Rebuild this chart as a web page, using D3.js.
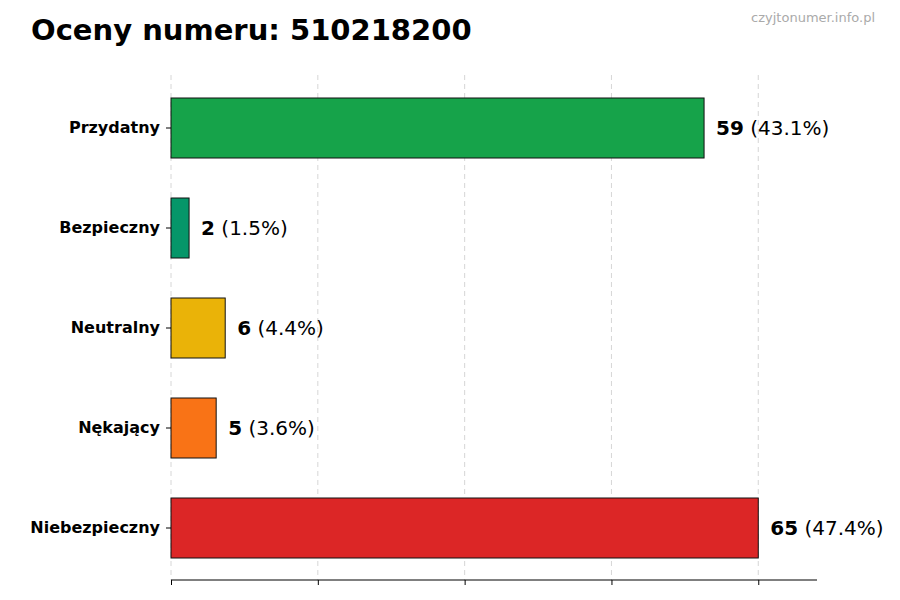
<!DOCTYPE html><html><head><meta charset="utf-8"><script src="https://cdn.jsdelivr.net/npm/d3@7"></script>
<style>body{margin:0;background:#fff}text{font-family:"DejaVu Sans",sans-serif}</style></head><body><svg id="c" width="900" height="600"></svg>
<script>
const categories=["Przydatny","Bezpieczny","Neutralny","Nękający","Niebezpieczny"];
const values=[59,2,6,5,65];
const percents=["43.1%","1.5%","4.4%","3.6%","47.4%"];
const colors=["#16a34a","#059669","#eab308","#f97316","#dc2626"];
const xTicks=[0,16.25,32.5,48.75,65];
const svg=d3.select("#c");
const x=d3.scaleLinear().domain([0,71.5]).range([171,817]);
const y=d3.scaleBand().domain(categories).range([78,578]).paddingInner(0.4).paddingOuter(0.2);
svg.append("text").attr("x",31).attr("y",40).attr("font-size",29).attr("font-weight","bold").text("Oceny numeru: 510218200");
svg.append("text").attr("x",875).attr("y",22).attr("text-anchor","end").attr("font-size",13).attr("fill","#aaa").text("czyjtonumer.info.pl");
svg.selectAll(".g").data(xTicks).enter().append("line").attr("x1",d=>x(d)).attr("x2",d=>x(d)).attr("y1",75).attr("y2",580).attr("stroke","#ccc").attr("stroke-dasharray","5,4").attr("stroke-width",0.8);
svg.selectAll(".b").data(values).enter().append("rect").attr("x",x(0)).attr("y",(d,i)=>y(categories[i])).attr("width",d=>x(d)-x(0)).attr("height",y.bandwidth()).attr("fill",(d,i)=>colors[i]).attr("stroke","#111").attr("stroke-width",1);
const lab=svg.selectAll(".l").data(values).enter().append("text").attr("x",d=>x(d)+12).attr("y",(d,i)=>y(categories[i])+y.bandwidth()/2).attr("dy","0.35em").attr("font-size",20);
lab.append("tspan").attr("font-weight","bold").text(d=>d);
lab.append("tspan").text((d,i)=>" ("+percents[i]+")");
const ax=svg.append("g").attr("transform","translate(0,580)").call(d3.axisBottom(x).tickValues(xTicks).tickFormat("").tickSize(5));
ax.select(".domain").attr("d","M171,0H817").attr("stroke","#000");
const ay=svg.append("g").attr("transform","translate(171,0)").call(d3.axisLeft(y).tickSize(5).tickPadding(6));
ay.select(".domain").remove();
ay.selectAll("text").attr("font-size",16).attr("font-weight","bold").attr("fill","#000").style("font-family","DejaVu Sans");
</script></body></html>
